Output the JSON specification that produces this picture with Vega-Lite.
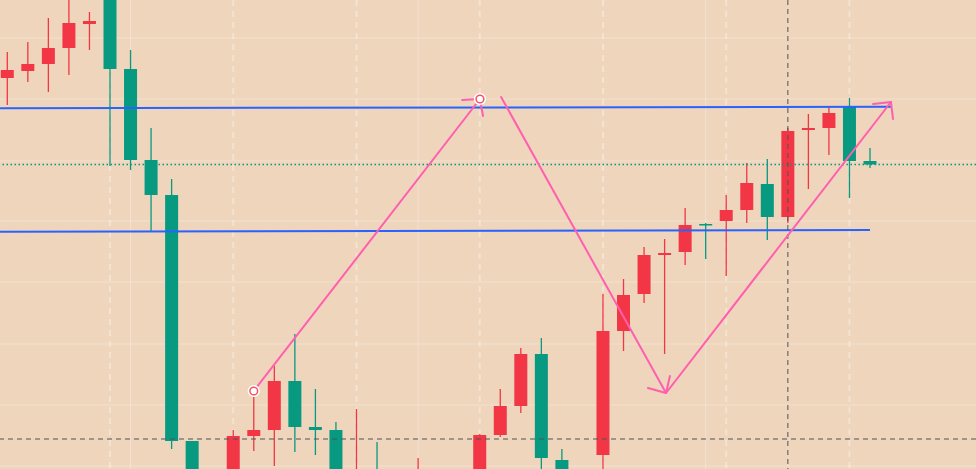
{
  "$schema": "https://vega.github.io/schema/vega-lite/v6.json",
  "width": 976,
  "height": 469,
  "padding": 0,
  "autosize": {"type": "none"},
  "background": "#eed5bc",
  "config": {"view": {"stroke": null}},
  "datasets": {
    "candles": [
      {"i": 1, "open": 27.8, "close": 27.0, "low": 25.2, "high": 30.5},
      {"i": 2, "open": 27.1, "close": 26.4, "low": 24.2, "high": 28.2},
      {"i": 3, "open": 26.4, "close": 24.8, "low": 21.8, "high": 29.2},
      {"i": 4, "open": 24.8, "close": 22.3, "low": 19.0, "high": 27.5},
      {"i": 5, "open": 22.4, "close": 22.1, "low": 21.2, "high": 25.0},
      {"i": 6, "open": 18.5, "close": 26.9, "low": 17.0, "high": 36.6},
      {"i": 7, "open": 26.9, "close": 36.0, "low": 25.0, "high": 37.0},
      {"i": 8, "open": 36.0, "close": 39.5, "low": 32.8, "high": 43.1},
      {"i": 9, "open": 39.5, "close": 64.1, "low": 37.9, "high": 64.9},
      {"i": 10, "open": 64.1, "close": 70.0, "low": 64.1, "high": 72.0},
      {"i": 11, "open": 68.0, "close": 71.0, "low": 67.5, "high": 72.5},
      {"i": 12, "open": 69.0, "close": 63.6, "low": 63.0, "high": 71.0},
      {"i": 13, "open": 63.6, "close": 63.0, "low": 59.7, "high": 65.1},
      {"i": 14, "open": 63.0, "close": 58.1, "low": 56.6, "high": 66.6},
      {"i": 15, "open": 58.1, "close": 62.7, "low": 53.4, "high": 65.2},
      {"i": 16, "open": 62.7, "close": 63.0, "low": 58.9, "high": 65.5},
      {"i": 17, "open": 63.0, "close": 68.0, "low": 62.2, "high": 69.5},
      {"i": 18, "open": 72.0, "close": 68.0, "low": 60.9, "high": 73.0},
      {"i": 19, "open": 68.5, "close": 71.0, "low": 64.2, "high": 72.0},
      {"i": 20, "open": 72.0, "close": 70.0, "low": 68.0, "high": 73.0},
      {"i": 21, "open": 71.5, "close": 68.5, "low": 65.8, "high": 72.5},
      {"i": 22, "open": 69.0, "close": 71.0, "low": 68.0, "high": 72.0},
      {"i": 23, "open": 71.0, "close": 68.5, "low": 67.5, "high": 72.0},
      {"i": 24, "open": 69.0, "close": 63.5, "low": 63.4, "high": 70.0},
      {"i": 25, "open": 63.5, "close": 60.6, "low": 58.9, "high": 63.7},
      {"i": 26, "open": 60.6, "close": 55.4, "low": 54.8, "high": 61.3},
      {"i": 27, "open": 55.4, "close": 65.8, "low": 53.8, "high": 67.5},
      {"i": 28, "open": 66.0, "close": 69.0, "low": 64.9, "high": 70.0},
      {"i": 29, "open": 69.5, "close": 68.0, "low": 67.5, "high": 70.5},
      {"i": 30, "open": 65.5, "close": 53.1, "low": 49.4, "high": 68.0},
      {"i": 31, "open": 53.1, "close": 49.5, "low": 47.9, "high": 55.1},
      {"i": 32, "open": 49.4, "close": 45.5, "low": 44.7, "high": 50.3},
      {"i": 33, "open": 45.5, "close": 45.3, "low": 43.9, "high": 55.4},
      {"i": 34, "open": 45.2, "close": 42.5, "low": 40.8, "high": 46.5},
      {"i": 35, "open": 42.4, "close": 42.55, "low": 42.3, "high": 45.9},
      {"i": 36, "open": 42.1, "close": 41.0, "low": 39.5, "high": 47.6},
      {"i": 37, "open": 41.0, "close": 38.3, "low": 36.3, "high": 42.3},
      {"i": 38, "open": 38.4, "close": 41.7, "low": 35.9, "high": 44.0},
      {"i": 39, "open": 41.7, "close": 33.1, "low": 32.8, "high": 42.3},
      {"i": 40, "open": 33.0, "close": 32.8, "low": 31.4, "high": 38.9},
      {"i": 41, "open": 32.8, "close": 31.3, "low": 30.7, "high": 35.5},
      {"i": 42, "open": 30.7, "close": 36.1, "low": 29.8, "high": 39.8},
      {"i": 43, "open": 36.1, "close": 36.45, "low": 34.8, "high": 36.8}
    ],
    "hgrid": [{"p": 23.8}, {"p": 29.9}, {"p": 36.1}, {"p": 42.1}, {"p": 48.2}, {"p": 54.4}, {"p": 60.5}, {"p": 66.6}],
    "vgridSolid": [{"i": 7}, {"i": 21}, {"i": 35}],
    "vgridDash": [{"i": 6}, {"i": 12}, {"i": 18}, {"i": 24}, {"i": 30}, {"i": 36}, {"i": 42}],
    "levels": [
      {"seg": "upper", "i": 0.645, "p": 30.83},
      {"seg": "upper", "i": 44.02, "p": 30.67},
      {"seg": "lower", "i": 0.645, "p": 43.17},
      {"seg": "lower", "i": 43.0, "p": 43.0}
    ],
    "arrows": [
      {"seg": "a1", "i": 13.0, "p": 59.1}, {"seg": "a1", "i": 24.01, "p": 29.9},
      {"seg": "a1h1", "i": 24.01, "p": 29.9}, {"seg": "a1h1", "i": 23.14, "p": 30.0},
      {"seg": "a1h2", "i": 24.01, "p": 29.9}, {"seg": "a1h2", "i": 24.16, "p": 31.6},
      {"seg": "a2", "i": 25.04, "p": 29.7}, {"seg": "a2", "i": 33.07, "p": 59.3},
      {"seg": "a2h1", "i": 33.07, "p": 59.3}, {"seg": "a2h1", "i": 32.19, "p": 58.8},
      {"seg": "a2h2", "i": 33.07, "p": 59.3}, {"seg": "a2h2", "i": 33.26, "p": 57.6},
      {"seg": "a3", "i": 33.07, "p": 59.3}, {"seg": "a3", "i": 44.02, "p": 30.2},
      {"seg": "a3h1", "i": 44.02, "p": 30.2}, {"seg": "a3h1", "i": 43.15, "p": 30.4},
      {"seg": "a3h2", "i": 44.02, "p": 30.2}, {"seg": "a3h2", "i": 44.12, "p": 31.9}
    ],
    "anchors": [{"i": 13.0, "p": 59.1}, {"i": 24.01, "p": 29.9}],
    "lastPrice": [{"p": 36.45}],
    "crossH": [{"p": 63.9}],
    "crossV": [{"i": 39}]
  },
  "layer": [
    {
      "data": {"name": "hgrid"},
      "mark": {"type": "rule", "color": "#ffffff", "opacity": 0.3, "strokeWidth": 1},
      "encoding": {"y": {"field": "p", "type": "quantitative", "scale": {"domain": [20, 66.9], "reverse": true, "nice": false, "zero": false, "padding": 0}, "axis": null}}
    },
    {
      "data": {"name": "vgridSolid"},
      "mark": {"type": "rule", "color": "#ffffff", "opacity": 0.3, "strokeWidth": 1},
      "encoding": {"x": {"field": "i", "type": "quantitative", "scale": {"domain": [0.645, 48.16], "nice": false, "zero": false, "padding": 0}, "axis": null}}
    },
    {
      "data": {"name": "vgridDash"},
      "mark": {"type": "rule", "color": "#ffffff", "opacity": 0.35, "strokeWidth": 2, "strokeDash": [6, 5]},
      "encoding": {"x": {"field": "i", "type": "quantitative", "axis": null}}
    },
    {
      "data": {"name": "candles"},
      "mark": {"type": "rule", "strokeWidth": 1.3, "clip": true},
      "encoding": {
        "x": {"field": "i", "type": "quantitative", "axis": null},
        "y": {"field": "low", "type": "quantitative", "axis": null},
        "y2": {"field": "high"},
        "color": {"condition": {"test": "datum.close > datum.open", "value": "#089981"}, "value": "#f23645"}
      }
    },
    {
      "data": {"name": "candles"},
      "mark": {"type": "bar", "width": 13, "clip": true},
      "encoding": {
        "x": {"field": "i", "type": "quantitative", "axis": null},
        "y": {"field": "open", "type": "quantitative", "axis": null},
        "y2": {"field": "close"},
        "color": {"condition": {"test": "datum.close > datum.open", "value": "#089981"}, "value": "#f23645"}
      }
    },
    {
      "data": {"name": "levels"},
      "mark": {"type": "line", "color": "#2962ff", "strokeWidth": 2, "clip": true},
      "encoding": {
        "x": {"field": "i", "type": "quantitative", "axis": null},
        "y": {"field": "p", "type": "quantitative", "axis": null},
        "detail": {"field": "seg"}
      }
    },
    {
      "data": {"name": "lastPrice"},
      "mark": {"type": "rule", "color": "#089981", "strokeWidth": 1.3, "strokeDash": [1.5, 2.5]},
      "encoding": {"y": {"field": "p", "type": "quantitative", "axis": null}}
    },
    {
      "data": {"name": "crossH"},
      "mark": {"type": "rule", "color": "#50535e", "strokeWidth": 1, "strokeDash": [5, 4]},
      "encoding": {"y": {"field": "p", "type": "quantitative", "axis": null}}
    },
    {
      "data": {"name": "crossV"},
      "mark": {"type": "rule", "color": "#50535e", "strokeWidth": 1, "strokeDash": [5, 4]},
      "encoding": {"x": {"field": "i", "type": "quantitative", "axis": null}}
    },
    {
      "data": {"name": "arrows"},
      "mark": {"type": "line", "color": "#ff5fae", "strokeWidth": 2, "strokeCap": "round", "clip": true},
      "encoding": {
        "x": {"field": "i", "type": "quantitative", "axis": null},
        "y": {"field": "p", "type": "quantitative", "axis": null},
        "detail": {"field": "seg"}
      }
    },
    {
      "data": {"name": "anchors"},
      "mark": {"type": "point", "filled": true, "color": "#ffffff", "size": 150, "opacity": 1},
      "encoding": {
        "x": {"field": "i", "type": "quantitative", "axis": null},
        "y": {"field": "p", "type": "quantitative", "axis": null}
      }
    },
    {
      "data": {"name": "anchors"},
      "mark": {"type": "point", "filled": false, "fill": "#ffffff", "stroke": "#f7525f", "strokeWidth": 1.5, "size": 60, "opacity": 1, "fillOpacity": 1},
      "encoding": {
        "x": {"field": "i", "type": "quantitative", "axis": null},
        "y": {"field": "p", "type": "quantitative", "axis": null}
      }
    }
  ]
}
